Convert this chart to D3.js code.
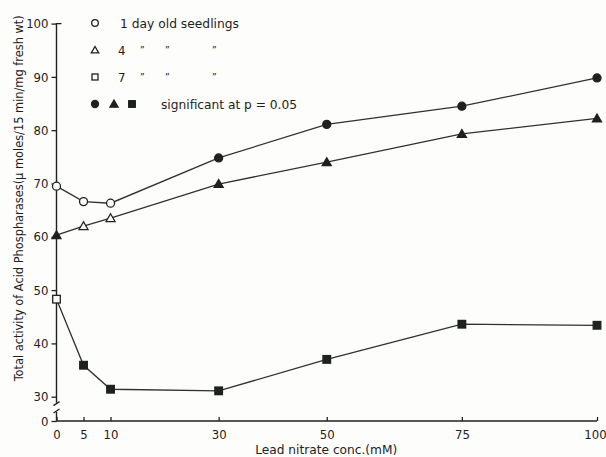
<!DOCTYPE html>
<html><head><meta charset="utf-8">
<script src="https://cdn.jsdelivr.net/npm/d3@7"></script>
<style>body{margin:0;background:#fff}svg{display:block}</style>
</head><body><svg id="c" width="606" height="457"></svg>
<script>
const concentrations=[0,5,10,30,50,75,100];
const xTicks=[0,5,10,30,50,75,100];
const yTicks=[0,30,40,50,60,70,80,90,100];
const day1=[69.5,66.6,66.3,74.8,81.1,84.5,89.8];
const day4=[60.3,62.0,63.5,69.9,74.0,79.3,82.2];
const day7=[48.3,35.9,31.4,31.1,37.0,43.6,43.4];
const sig1=[false,false,false,true,true,true,true];
const sig4=[true,false,false,true,true,true,true];
const sig7=[false,true,true,true,true,true,true];
const legendLabels=["1 day old seedlings","4","7","significant at p = 0.05"];

const ink="#1e221e", lineCol="#2c342c";
const font="DejaVu Sans Condensed, DejaVu Sans, sans-serif";
const svg=d3.select("#c");
svg.append("rect").attr("width",606).attr("height",457).attr("fill","#fdfdfc");

const x=d3.scaleLinear().domain([0,100]).range([56.5,597]);
const y=d3.scaleLinear().domain([0,30,100]).range([421,396.7,23.6]);

// axes
const yAx=svg.append("g").attr("transform",`translate(${x(0)},0)`)
  .call(d3.axisLeft(y).tickValues(yTicks).tickSizeInner(5).tickSizeOuter(0).tickPadding(3));
yAx.select(".domain").remove();
yAx.selectAll("line").attr("stroke",ink).attr("stroke-width",1.3);
yAx.selectAll("text").attr("font-family",font).attr("font-size",13).attr("fill",ink);

const xAx=svg.append("g").attr("transform",`translate(0,${y(0)})`)
  .call(d3.axisBottom(x).tickValues(xTicks).tickSizeInner(-4).tickSizeOuter(0).tickPadding(9));
xAx.select(".domain").remove();
xAx.selectAll("line").attr("stroke",ink).attr("stroke-width",1.3);
xAx.selectAll("text").attr("font-family",font).attr("font-size",13).attr("fill",ink)
  .attr("dx",d=>d===100?-2:0);

const axG=svg.append("g").attr("stroke",ink).attr("stroke-width",1.4).attr("fill","none");
// y axis line with break
axG.append("path").attr("d",`M${x(0)+5},${y(100)}H${x(0)}V${y(30)+6}`);
axG.append("path").attr("d",`M${x(0)},${y(0)-9}V${y(0)}H${x(100)}`);
axG.append("path").attr("d",`M${x(0)-3},${y(30)+9}L${x(0)+3},${y(30)+5}`);
axG.append("path").attr("d",`M${x(0)-3},${y(0)-8}L${x(0)+3},${y(0)-12}`);

// axis titles
svg.append("text").attr("transform",`translate(23,${(y(0)+y(100))/2-24}) rotate(-90)`)
  .attr("text-anchor","middle").attr("font-family",font).attr("font-size",13).attr("fill",ink)
  .attr("textLength",366).attr("lengthAdjust","spacingAndGlyphs")
  .text("Total activity of Acid Phospharases(\u03bc moles/15 min/mg fresh wt)");
svg.append("text").attr("x",(x(30)+x(75))/2-14).attr("y",454).attr("text-anchor","middle")
  .attr("font-family",font).attr("font-size",12.5).attr("fill",ink)
  .attr("textLength",142).attr("lengthAdjust","spacingAndGlyphs")
  .text("Lead nitrate conc.(mM)");

// series
const series=[
  {vals:day1,sig:sig1,shape:"circle"},
  {vals:day4,sig:sig4,shape:"triangle"},
  {vals:day7,sig:sig7,shape:"square"}
];
const line=d3.line().x((d,i)=>x(concentrations[i])).y(d=>y(d));
function marker(g,shape,filled,cx,cy,s){
  const fill=filled?ink:"#fdfdfc";
  if(shape==="circle"){
    g.append("circle").attr("cx",cx).attr("cy",cy).attr("r",s).attr("fill",fill).attr("stroke",ink).attr("stroke-width",1.3);
  } else if(shape==="triangle"){
    g.append("path").attr("d",d3.symbol(d3.symbolTriangle,s*s*2.2)()).attr("transform",`translate(${cx},${cy+0.8})`)
      .attr("fill",fill).attr("stroke",ink).attr("stroke-width",1.3);
  } else {
    g.append("rect").attr("x",cx-s).attr("y",cy-s).attr("width",2*s).attr("height",2*s)
      .attr("fill",fill).attr("stroke",ink).attr("stroke-width",1.3);
  }
}
series.forEach(s=>{
  svg.append("path").datum(s.vals).attr("d",line).attr("fill","none").attr("stroke",lineCol).attr("stroke-width",1.3);
});
series.forEach(s=>{
  const g=svg.append("g");
  s.vals.forEach((v,i)=>marker(g,s.shape,s.sig[i],x(concentrations[i]),y(v),s.shape==="square"?3.8:4));
});

// legend
const lg=svg.append("g").attr("font-family",font).attr("font-size",13).attr("fill",ink);
const rowsY=[23,50,77,104];
const lm=svg.append("g");
marker(lm,"circle",false,95,rowsY[0],3.3);
marker(lm,"triangle",false,95,rowsY[1],3.3);
marker(lm,"square",false,95,rowsY[2],3);
marker(lm,"circle",true,95,rowsY[3],3.5);
marker(lm,"triangle",true,114,rowsY[3],3.6);
marker(lm,"square",true,132,rowsY[3],3.3);
lg.append("text").attr("x",120).attr("y",rowsY[0]+4.5).attr("textLength",119).attr("lengthAdjust","spacingAndGlyphs").text(legendLabels[0]);
lg.append("text").attr("x",118).attr("y",rowsY[1]+4.5).text(legendLabels[1]);
lg.append("text").attr("x",118).attr("y",rowsY[2]+4.5).text(legendLabels[2]);
[1,2].forEach(r=>{
  [140,165,212].forEach(qx=>lg.append("text").attr("x",qx).attr("y",rowsY[r]+4).attr("font-size",10).text("\u201d"));
});
lg.append("text").attr("x",161).attr("y",rowsY[3]+4.5).attr("textLength",136).attr("lengthAdjust","spacingAndGlyphs").text(legendLabels[3]);
</script></body></html>
